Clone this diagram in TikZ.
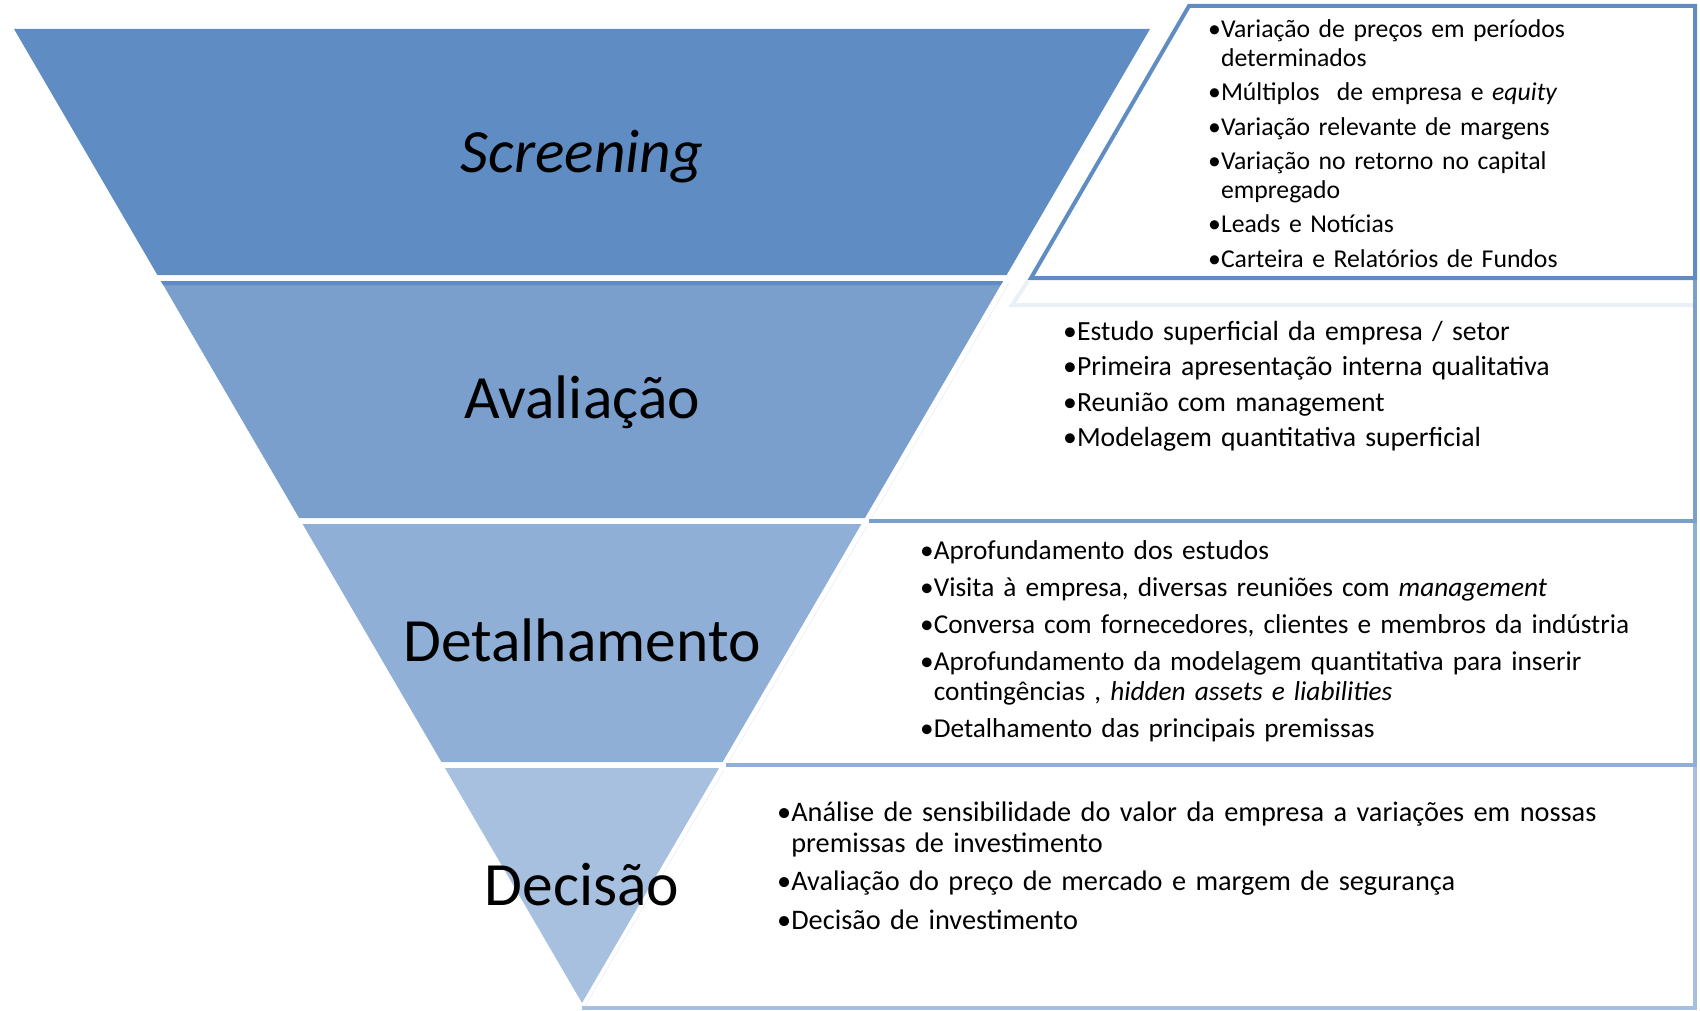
\documentclass[tikz,border=0pt]{standalone}
\usepackage{fontspec}
\setmainfont{Carlito}
\definecolor{bandA}{HTML}{5F8DC3}
\definecolor{bandB}{HTML}{7A9FCD}
\definecolor{bandC}{HTML}{8FAFD6}
\definecolor{bandD}{HTML}{A7C0DF}
\definecolor{ghost}{HTML}{EAF0F7}
\definecolor{seam}{HTML}{DCE6F2}
% bullet item with hanging indent
\newcommand{\bitem}{\par\setbox0\hbox{\textbullet}\hangindent=\wd0\hangafter=1\noindent\textbullet}

\begin{document}
\begin{tikzpicture}[x=1pt,y=-1pt,
  stage/.style={inner sep=0pt,font=\fontsize{61.5}{72}\selectfont},
  notes/.style={anchor=north west,inner sep=0pt,align=left},
  rim/.style={line width=4pt}]
\useasboundingbox (0,0) rectangle (1700,1011);

% funnel bands
\fill[bandA] (14,29) -- (1150,29) -- (1006.6,275) -- (157.4,275) -- cycle;
\fill[bandB] (160.9,281) -- (1003.1,281) -- (864.9,518) -- (299.1,518) -- cycle;
\fill[bandA] (160.9,281) -- (1003.1,281) -- (1000.7,285) -- (163.3,285) -- cycle;
\fill[bandC] (302.6,524) -- (861.4,524) -- (722.6,762) -- (441.4,762) -- cycle;
\fill[bandD] (444.9,768) -- (719.1,768) -- (582,1003) -- cycle;

% text boxes
\draw[ghost,rim] (1028,281) -- (1012,305) -- (1693,305);
\draw[bandA,rim] (1189,6) -- (1695,6) -- (1695,278) -- (1031,278) -- cycle;
\draw[seam] (1009,283) -- (871,519);
\draw[bandB,rim] (1695,280) -- (1695,521) (869,521) -- (1697,521);
\draw[seam] (867,526) -- (728,763);
\draw[bandC,rim] (1695,523) -- (1695,765) (726,765) -- (1697,765);
\draw[seam] (724,770) -- (585,1006);
\draw[bandD,rim] (1695,767) -- (1695,1008) (582,1008) -- (1697,1008);

% stage labels
\node[stage,font=\fontsize{61.5}{72}\selectfont\itshape] (screening) at (582,157) {Screening};
\node[stage] (avaliacao) at (582,402) {Avaliação};
\node[stage] (detalhamento) at (582,640) {Detalhamento};
\node[stage] (decisao) at (582,885) {Decisão};

% stage notes
\node[notes,text width=485pt,font=\fontsize{25.7}{28.5}\selectfont] (screening-notes) at (1208,9) {%
\bitem\rule{0pt}{1em}\setlength{\parskip}{6pt}Variação de preços em períodos\newline determinados
\bitem Múltiplos \ de empresa e \textit{equity}
\bitem Variação relevante de margens
\bitem Variação no retorno no capital\newline empregado
\bitem Leads e Notícias
\bitem Carteira e Relatórios de Fundos\par};

\node[notes,text width=630pt,font=\fontsize{27.7}{30}\selectfont] (avaliacao-notes) at (1063,310) {%
\bitem\rule{0pt}{1em}\setlength{\parskip}{5.5pt}Estudo superficial da empresa / setor
\bitem Primeira apresentação interna qualitativa
\bitem Reunião com management
\bitem Modelagem quantitativa superficial\par};

\node[notes,text width=770pt,font=\fontsize{27.3}{30.5}\selectfont] (detalhamento-notes) at (920,529) {%
\bitem\rule{0pt}{1em}\setlength{\parskip}{6.3pt}Aprofundamento dos estudos
\bitem Visita à empresa, diversas reuniões com \textit{management}
\bitem Conversa com fornecedores, clientes e membros da indústria
\bitem Aprofundamento da modelagem quantitativa para inserir\newline contingências , \textit{hidden assets e liabilities}
\bitem Detalhamento das principais premissas\par};

\node[notes,text width=915pt,font=\fontsize{28.3}{31}\selectfont] (decisao-notes) at (777,790) {%
\bitem\rule{0pt}{1em}\setlength{\parskip}{7.5pt}Análise de sensibilidade do valor da empresa a variações em nossas\newline premissas de investimento
\bitem Avaliação do preço de mercado e margem de segurança
\bitem Decisão de investimento\par};
\end{tikzpicture}
\end{document}
